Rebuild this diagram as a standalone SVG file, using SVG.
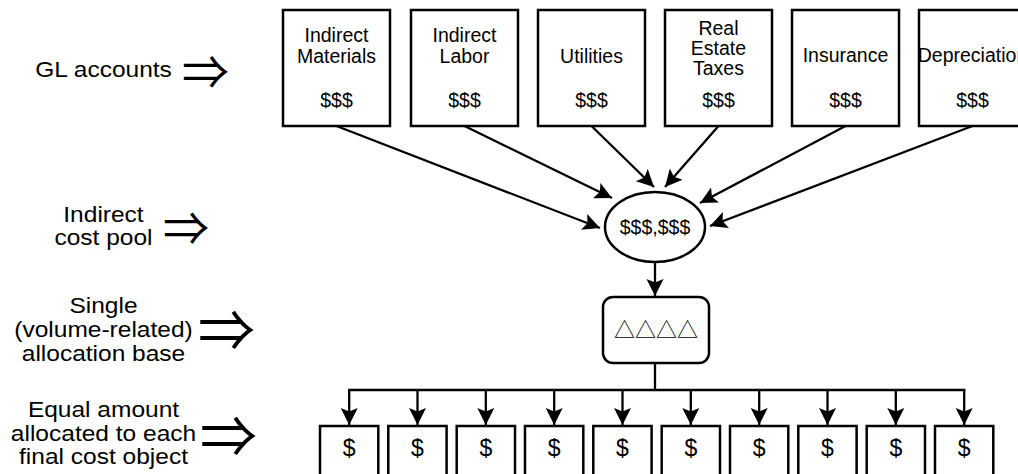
<svg xmlns="http://www.w3.org/2000/svg" width="1018" height="474" viewBox="0 0 1018 474">
<style>
.box{fill:#fff;stroke:#000;stroke-width:2.5}
.t{font-family:"Liberation Sans",Arial,sans-serif;font-size:19.5px;text-anchor:middle;fill:#000}
.lbl{font-family:"Liberation Sans",Arial,sans-serif;font-size:22.5px;text-anchor:middle;fill:#000}
.dbl{font-family:"Noto Sans CJK JP","DejaVu Sans",sans-serif;fill:#000}
.c{fill:none;stroke:#000;stroke-width:2.3}
.d{font-family:"Liberation Sans",Arial,sans-serif;font-size:23px;text-anchor:middle;fill:#000}
</style>
<defs>
<marker id="ah" markerUnits="userSpaceOnUse" markerWidth="18" markerHeight="17" refX="17" refY="8.5" orient="auto" overflow="visible">
<path d="M0,0 L17,8.5 L0,17 L3.5,8.5 z" fill="#000"/>
</marker>
</defs>
<rect width="1018" height="474" fill="#fff"/>

<g id="labels">
<text class="lbl" transform="translate(103.5,0) scale(1.09,1)"><tspan x="0" y="77">GL accounts</tspan></text>
<text class="dbl" x="182" y="89" font-size="47">⇒</text>
<text class="lbl" transform="translate(103.5,0) scale(1.09,1)"><tspan x="0" y="222">Indirect</tspan><tspan x="0" y="245">cost pool</tspan></text>
<text class="dbl" x="163" y="245" font-size="46">⇒</text>
<text class="lbl" transform="translate(103.5,0) scale(1.09,1)"><tspan x="0" y="313">Single</tspan><tspan x="0" y="337">(volume-related)</tspan><tspan x="0" y="361">allocation base</tspan></text>
<text class="dbl" x="198" y="351" font-size="57">⇒</text>
<text class="lbl" transform="translate(103.5,0) scale(1.09,1)"><tspan x="0" y="417">Equal amount</tspan><tspan x="0" y="441">allocated to each</tspan><tspan x="0" y="464">final cost object</tspan></text>
<text class="dbl" x="200" y="457" font-size="57">⇒</text>
</g>

<g id="connectors">
<line class="c" x1="336.5" y1="126" x2="600" y2="228" marker-end="url(#ah)"/>
<line class="c" x1="464.5" y1="126" x2="612" y2="198" marker-end="url(#ah)"/>
<line class="c" x1="591.5" y1="126" x2="654" y2="187" marker-end="url(#ah)"/>
<line class="c" x1="718.5" y1="126" x2="665" y2="187" marker-end="url(#ah)"/>
<line class="c" x1="845.5" y1="126" x2="700" y2="203" marker-end="url(#ah)"/>
<line class="c" x1="972.5" y1="126" x2="710" y2="226" marker-end="url(#ah)"/>
<line class="c" x1="655" y1="262" x2="655" y2="296" marker-end="url(#ah)"/>
<polyline class="c" points="655,363 655,390"/>
<polyline class="c" points="348,390 965.3,390"/>
<line class="c" x1="349.2" y1="389" x2="349.2" y2="425" marker-end="url(#ah)"/>
<line class="c" x1="417.5" y1="389" x2="417.5" y2="425" marker-end="url(#ah)"/>
<line class="c" x1="485.8" y1="389" x2="485.8" y2="425" marker-end="url(#ah)"/>
<line class="c" x1="554.2" y1="389" x2="554.2" y2="425" marker-end="url(#ah)"/>
<line class="c" x1="622.5" y1="389" x2="622.5" y2="425" marker-end="url(#ah)"/>
<line class="c" x1="690.8" y1="389" x2="690.8" y2="425" marker-end="url(#ah)"/>
<line class="c" x1="759.2" y1="389" x2="759.2" y2="425" marker-end="url(#ah)"/>
<line class="c" x1="827.5" y1="389" x2="827.5" y2="425" marker-end="url(#ah)"/>
<line class="c" x1="895.8" y1="389" x2="895.8" y2="425" marker-end="url(#ah)"/>
<line class="c" x1="964.2" y1="389" x2="964.2" y2="425" marker-end="url(#ah)"/>
</g>

<g id="gl-indirect-materials"><rect class="box" x="283" y="10" width="107" height="116"/><text class="t"><tspan x="336.5" y="42">Indirect</tspan><tspan x="336.5" y="63">Materials</tspan><tspan x="336.5" y="107">$$$</tspan></text></g>
<g id="gl-indirect-labor"><rect class="box" x="411" y="10" width="107" height="116"/><text class="t"><tspan x="464.5" y="42">Indirect</tspan><tspan x="464.5" y="63">Labor</tspan><tspan x="464.5" y="107">$$$</tspan></text></g>
<g id="gl-utilities"><rect class="box" x="538" y="10" width="107" height="116"/><text class="t"><tspan x="591.5" y="63">Utilities</tspan><tspan x="591.5" y="107">$$$</tspan></text></g>
<g id="gl-real-estate-taxes"><rect class="box" x="665" y="10" width="107" height="116"/><text class="t"><tspan x="718.5" y="35">Real</tspan><tspan x="718.5" y="55">Estate</tspan><tspan x="718.5" y="75">Taxes</tspan><tspan x="718.5" y="107">$$$</tspan></text></g>
<g id="gl-insurance"><rect class="box" x="792" y="10" width="107" height="116"/><text class="t"><tspan x="845.5" y="62">Insurance</tspan><tspan x="845.5" y="107">$$$</tspan></text></g>
<g id="gl-depreciation"><rect class="box" x="919" y="10" width="107" height="116"/><text class="t"><tspan x="972.5" y="62">Depreciation</tspan><tspan x="972.5" y="107">$$$</tspan></text></g>

<g id="cost-pool"><ellipse class="box" cx="655" cy="227" rx="50" ry="35"/><text class="t" x="655" y="234" font-size="20.5">$$$,$$$</text></g>
<g id="allocation-base"><rect class="box" x="603" y="297" width="106" height="66" rx="10"/><text x="656" y="337" font-family="Noto Sans CJK JP,DejaVu Sans,sans-serif" font-size="21" text-anchor="middle">△△△△</text></g>

<g id="objects">
<g id="obj1"><rect class="box" x="320" y="426" width="58.3" height="60"/><text class="d" x="349.2" y="456">$</text></g>
<g id="obj2"><rect class="box" x="388.3" y="426" width="58.3" height="60"/><text class="d" x="417.5" y="456">$</text></g>
<g id="obj3"><rect class="box" x="456.7" y="426" width="58.3" height="60"/><text class="d" x="485.8" y="456">$</text></g>
<g id="obj4"><rect class="box" x="525" y="426" width="58.3" height="60"/><text class="d" x="554.2" y="456">$</text></g>
<g id="obj5"><rect class="box" x="593.3" y="426" width="58.3" height="60"/><text class="d" x="622.5" y="456">$</text></g>
<g id="obj6"><rect class="box" x="661.7" y="426" width="58.3" height="60"/><text class="d" x="690.8" y="456">$</text></g>
<g id="obj7"><rect class="box" x="730" y="426" width="58.3" height="60"/><text class="d" x="759.2" y="456">$</text></g>
<g id="obj8"><rect class="box" x="798.3" y="426" width="58.3" height="60"/><text class="d" x="827.5" y="456">$</text></g>
<g id="obj9"><rect class="box" x="866.7" y="426" width="58.3" height="60"/><text class="d" x="895.8" y="456">$</text></g>
<g id="obj10"><rect class="box" x="935" y="426" width="58.3" height="60"/><text class="d" x="964.2" y="456">$</text></g>
</g>
</svg>
